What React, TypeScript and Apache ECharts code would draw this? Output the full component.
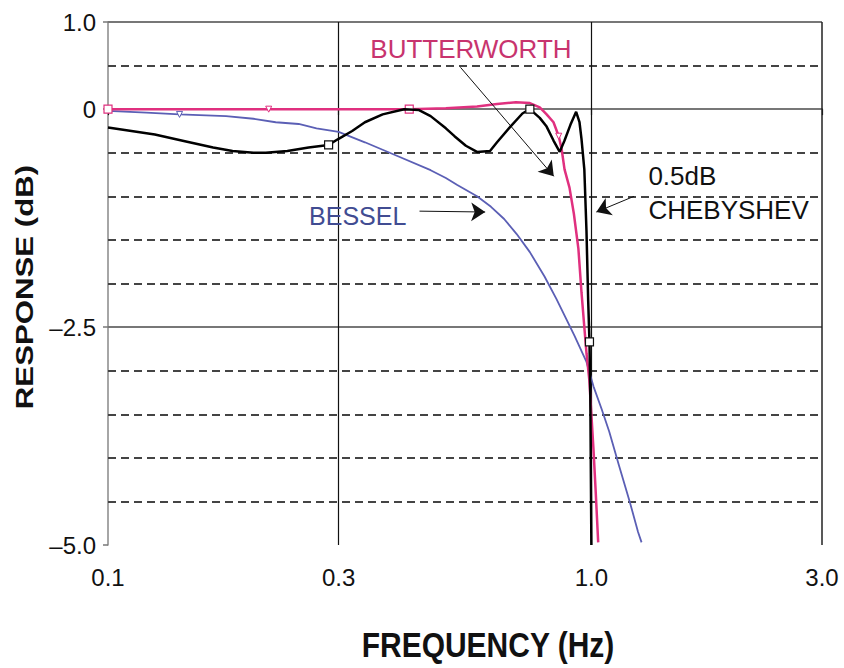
import React, { useEffect, useRef } from "react";
import * as echarts from "echarts";

// Frequency tick labels (Hz) and response tick labels (dB)
const xTickValues = [0.1, 0.3, 1.0, 3.0];
const yLabelValues = [-5, -2.5, 0, 1];
const yMajorLines = [1, 0, -2.5];
const yMinorLines = [0.5, -0.5, -1, -1.5, -2, -3, -3.5, -4, -4.5];
const xMajorLines = [0.3, 1.0];

// [frequency (Hz), response (dB)]
const butterworth: [number, number][] = [
  [0.1, 0], [0.15, 0], [0.215, 0], [0.3, 0], [0.42, 0], [0.5, 0.01], [0.58, 0.03],
  [0.638, 0.06], [0.698, 0.08], [0.746, 0.07], [0.782, 0.02], [0.808, -0.06],
  [0.835, -0.15], [0.856, -0.31], [0.868, -0.46], [0.88, -0.69], [0.901, -0.9],
  [0.92, -1.2], [0.94, -1.6], [0.954, -2.1], [0.967, -2.5], [0.977, -2.8],
  [0.99, -3.1], [1.0, -3.5], [1.01, -3.9], [1.02, -4.35], [1.033, -4.97],
];

const bessel: [number, number][] = [
  [0.1, -0.02], [0.12, -0.04], [0.1406, -0.06], [0.1755, -0.08], [0.2, -0.11],
  [0.2223, -0.15], [0.248, -0.17], [0.27, -0.22], [0.3, -0.26], [0.34, -0.38],
  [0.398, -0.54], [0.465, -0.7], [0.5, -0.79], [0.528, -0.87], [0.58, -1.0],
  [0.62, -1.12], [0.66, -1.26], [0.7, -1.43], [0.746, -1.64], [0.8, -1.92],
  [0.847, -2.18], [0.923, -2.6], [0.977, -2.9], [1.01, -3.18], [1.05, -3.44],
  [1.089, -3.7], [1.141, -4.09], [1.2, -4.5], [1.249, -4.85], [1.27, -4.97],
];

const chebyshev: [number, number][] = [
  [0.1, -0.21], [0.125, -0.29], [0.145, -0.37], [0.165, -0.44], [0.181, -0.48],
  [0.2, -0.5], [0.212, -0.5], [0.235, -0.48], [0.26, -0.44], [0.286, -0.41],
  [0.3, -0.34], [0.32, -0.25], [0.34, -0.15], [0.37, -0.06], [0.41, 0.0],
  [0.44, -0.01], [0.465, -0.08], [0.5, -0.22], [0.521, -0.31], [0.55, -0.42],
  [0.58, -0.49], [0.617, -0.48], [0.638, -0.38], [0.68, -0.2], [0.72, -0.05],
  [0.746, 0.0], [0.782, -0.1], [0.808, -0.2], [0.835, -0.36], [0.86, -0.49],
  [0.88, -0.36], [0.905, -0.18], [0.93, -0.03], [0.945, -0.15], [0.954, -0.34],
  [0.967, -0.69], [0.977, -1.4], [0.985, -2.2], [0.991, -2.67], [0.995, -3.3],
  [1.0, -5.0],
];

// indices of points carrying the small plot markers
const butterworthSquares = [0, 4];
const butterworthTriangles = [2, 13];
const besselTriangles = [2];
const chebyshevSquares = [9, 25, 38];

// annotation texts and arrows, in data coordinates [Hz, dB]
const labelButterworth = { text: "BUTTERWORTH", at: [0.348, 0.69] };
const labelBessel = { text: "BESSEL", at: [0.26, -1.23] };
const labelCheby1 = { text: "0.5dB", at: [1.309, -0.77] };
const labelCheby2 = { text: "CHEBYSHEV", at: [1.309, -1.16] };
const arrows: [number, number, number, number][] = [
  [0.536, 0.48, 0.836, -0.77],
  [0.441, -1.17, 0.603, -1.18],
  [1.225, -1.0, 1.024, -1.18],
];

const FONT = "'Liberation Sans', Arial, Helvetica, sans-serif";

function buildData(
  pts: [number, number][],
  squares: number[],
  triangles: number[],
  stroke: string
) {
  return pts.map((p, i) => {
    if (squares.includes(i)) {
      return {
        value: p,
        symbol: "rect",
        symbolSize: 8,
        itemStyle: { color: "#ffffff", borderColor: stroke, borderWidth: 1.2 },
      };
    }
    if (triangles.includes(i)) {
      return {
        value: p,
        symbol: "triangle",
        symbolRotate: 180,
        symbolSize: 6,
        itemStyle: { color: "#ffffff", borderColor: stroke, borderWidth: 1 },
      };
    }
    return { value: p, symbol: "none" };
  });
}

export default function App() {
  const ref = useRef<HTMLDivElement>(null);

  useEffect(() => {
    if (!ref.current) return;
    const chart = echarts.init(ref.current, undefined, { renderer: "svg" });

    const textPoint = (t: { text: string; at: number[] }, color: string, size: number) => ({
      coord: t.at,
      symbol: "circle",
      symbolSize: 1,
      itemStyle: { color: "rgba(0,0,0,0)" },
      label: {
        show: true,
        position: "right",
        distance: 0,
        formatter: t.text,
        color,
        fontSize: size,
        fontFamily: FONT,
        fontWeight: "normal",
      },
    });

    const gridLines = [
      ...yMinorLines.map((v) => ({
        yAxis: v,
        lineStyle: { color: "#444", width: 1.8, type: [8, 5] },
      })),
      ...yMajorLines.map((v) => ({
        yAxis: v,
        lineStyle: { color: "#777", width: 2, type: "solid" },
      })),
      ...xMajorLines.map((v) => ({
        xAxis: v,
        lineStyle: { color: "#111", width: 1.2, type: "solid" },
      })),
      { xAxis: 3.0, lineStyle: { color: "#222", width: 1.5, type: "solid" } },
    ];

    const option: any = {
      animation: false,
      backgroundColor: "#ffffff",
      grid: { left: 108, right: 22, top: 22, bottom: 123, show: false },
      xAxis: {
        type: "log",
        logBase: 10,
        min: 0.1,
        max: 3,
        axisLine: { show: true, lineStyle: { color: "#777", width: 2 } },
        axisTick: {
          show: true,
          customValues: xTickValues,
          length: 6,
          lineStyle: { color: "#111", width: 1.2 },
        },
        axisLabel: {
          customValues: xTickValues,
          formatter: (v: number) => v.toFixed(1),
          fontSize: 24,
          fontFamily: FONT,
          color: "#111",
          margin: 20,
        },
        splitLine: { show: false },
        minorTick: { show: false },
        minorSplitLine: { show: false },
      },
      yAxis: {
        type: "value",
        min: -5,
        max: 1,
        interval: 0.5,
        axisLine: { show: true, onZero: false, lineStyle: { color: "#888", width: 1.5 } },
        axisTick: {
          show: true,
          customValues: yLabelValues,
          length: 5,
          lineStyle: { color: "#777", width: 1.5 },
        },
        axisLabel: {
          customValues: yLabelValues,
          formatter: (v: number) =>
            v === 1 ? "1.0" : v === 0 ? "0" : v === -2.5 ? "\u20132.5" : "\u20135.0",
          fontSize: 24,
          fontFamily: FONT,
          color: "#111",
          margin: 12,
        },
        splitLine: { show: false },
      },
      graphic: [
        {
          type: "text",
          x: 488,
          y: 645,
          scaleY: 1.15,
          style: {
            text: "FREQUENCY (Hz)",
            font: `bold 30px ${FONT}`,
            fill: "#111",
            textAlign: "center",
            textVerticalAlign: "middle",
          },
        },
        {
          type: "text",
          x: 25,
          y: 287,
          rotation: Math.PI / 2,
          scaleX: 1.3,
          style: {
            text: "RESPONSE (dB)",
            font: `bold 24px ${FONT}`,
            fill: "#111",
            textAlign: "center",
            textVerticalAlign: "middle",
          },
        },
      ],
      series: [
        {
          name: "Bessel",
          type: "line",
          z: 3,
          symbol: "none",
          showSymbol: true,
          data: buildData(bessel, [], besselTriangles, "#5b5fb5"),
          lineStyle: { color: "#5b5fb5", width: 1.8 },
          itemStyle: { color: "#5b5fb5" },
          markLine: {
            silent: true,
            symbol: "none",
            z: 1,
            label: { show: false },
            data: gridLines,
          },
        },
        {
          name: "Butterworth",
          type: "line",
          z: 4,
          symbol: "none",
          showSymbol: true,
          data: buildData(butterworth, butterworthSquares, butterworthTriangles, "#e0307f"),
          lineStyle: { color: "#e0307f", width: 2.5 },
          itemStyle: { color: "#e0307f" },
          markPoint: {
            silent: true,
            data: [
              textPoint(labelButterworth, "#c8346e", 26),
              textPoint(labelBessel, "#414c92", 25),
              textPoint(labelCheby1, "#111", 26),
              textPoint(labelCheby2, "#111", 26),
            ],
          },
        },
        {
          name: "Chebyshev",
          type: "line",
          z: 5,
          symbol: "none",
          showSymbol: true,
          data: buildData(chebyshev, chebyshevSquares, [], "#111"),
          lineStyle: { color: "#000", width: 2.5 },
          itemStyle: { color: "#000" },
          markLine: {
            silent: true,
            symbol: ["none", "arrow"],
            symbolSize: 14,
            label: { show: false },
            lineStyle: { color: "#111", width: 1, type: "solid" },
            data: arrows.map((a) => [
              { coord: [a[0], a[1]] },
              { coord: [a[2], a[3]] },
            ]),
          },
        },
      ],
    };

    chart.setOption(option);
    return () => chart.dispose();
  }, []);

  return (
    <div
      ref={ref}
      style={{ position: "fixed", left: 0, top: 0, width: 844, height: 668, background: "#fff" }}
    />
  );
}
